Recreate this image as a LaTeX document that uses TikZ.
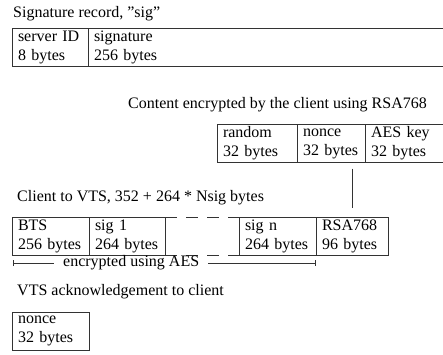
\documentclass[tikz,border=0pt]{standalone}
\usepackage{fontspec}
\setmainfont{Liberation Serif}
\usetikzlibrary{positioning,arrows.meta}
\tikzset{
  field/.style={draw=black!80, line width=0.9pt, outer sep=0pt, inner xsep=6pt,
    inner ysep=2pt, minimum height=38pt, align=left, text width=#1},
  caption/.style={anchor=west, inner sep=0pt}
}
\begin{document}
\begin{tikzpicture}[x=1pt, y=-1pt, font=\fontsize{16}{19}\selectfont]
\useasboundingbox (0,0) rectangle (443,354);
\begin{scope}[every node/.style={caption}]
    \node (sigtitle) at (13,14) {Signature record, ''sig''};
    \node (rsatitle) at (128,105) {Content encrypted by the client using RSA768};
    \node (reqtitle) at (17,198) {Client to VTS, 352 + 264 * Nsig bytes};
    \node (acktitle) at (17,292) {VTS acknowledgement to client};
\end{scope}

\begin{scope}[]
    \node[field=64pt, anchor=west] (srvid) at (12,47.5) {server ID\\8 bytes};
    \node[field=345pt, right=0pt of srvid] (sigval) {signature\\256 bytes};

    \node[field=68pt, anchor=west] (rnd) at (217,143.5) {random\\32 bytes};
    \node[field=56pt, right=0pt of rnd] (rsanonce) {nonce\\32 bytes};
    \node[field=68pt, right=0pt of rsanonce] (aeskey) {AES key\\32 bytes};

    \node[field=65pt, anchor=west] (bts) at (12,236) {BTS\\256 bytes};
    \node[field=64pt, right=0pt of bts] (sigone) {sig 1\\264 bytes};
    \node[field=65pt, right=74pt of sigone] (sign) {sig n\\264 bytes};
    \node[field=60pt, right=0pt of sign] (rsa) {RSA768\\96 bytes};

    \node[field=65pt, anchor=west] (acknonce) at (12,331) {nonce\\32 bytes};
\end{scope}

\begin{scope}[draw=black!80]
    \coordinate (linetop) at (rsa.north |- aeskey.south);
    \draw[line width=0.9pt] ([yshift=-6pt]linetop) -- ([yshift=9pt]rsa.north);
    \draw[line width=0.9pt, dash pattern=on 12pt off 9pt] (sigone.north east) -- (sign.north west);
    \draw[line width=0.9pt, dash pattern=on 12pt off 9pt] (sigone.south east) -- (sign.south west);

    \coordinate (aesl) at (13,263);
    \node[anchor=west, inner xsep=9pt, inner ysep=0pt] (aestext) at (54,263) {encrypted using AES};
    \coordinate (aesr) at (sign.east |- aesl);
    \draw[line width=0.6pt, {Bar[width=6pt]}-] (aesl) -- (aestext.west);
    \draw[line width=0.6pt, -{Bar[width=6pt]}] (aestext.east) -- (aesr);
\end{scope}
\end{tikzpicture}
\end{document}
